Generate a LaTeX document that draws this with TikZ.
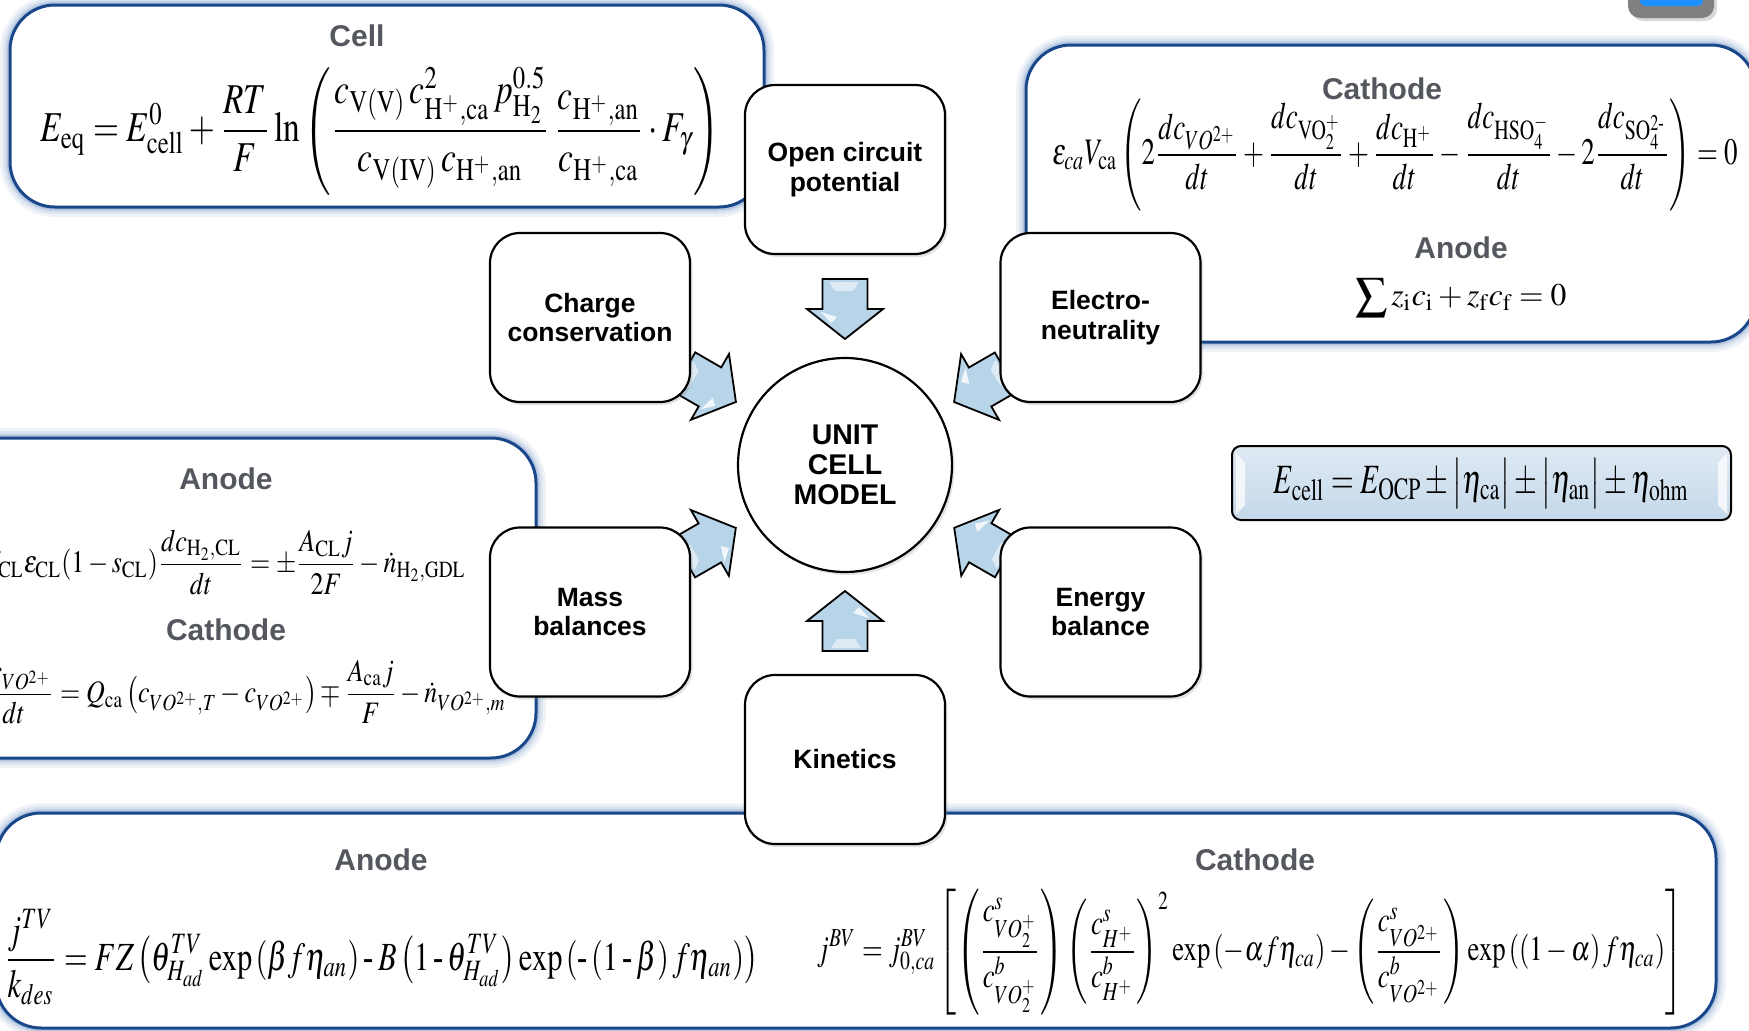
\documentclass[tikz,border=0pt]{standalone}
\usepackage{amsmath}
\usepackage{mathptmx}
\usepackage[no-math]{fontspec}
\setmainfont{Liberation Serif}
\newfontfamily\lblsans{Liberation Sans}
\usepackage{graphicx}
\usetikzlibrary{calc,shadows}

\pgfdeclarelayer{backlayer}
\pgfdeclarelayer{arrowlayer}
\pgfsetlayers{backlayer,arrowlayer,main}

\definecolor{panelblue}{RGB}{26,71,138}
\definecolor{glowblue}{RGB}{130,162,205}
\definecolor{titlegray}{RGB}{84,88,94}
\definecolor{arrowfill}{RGB}{183,212,232}
\definecolor{ecelltop}{RGB}{224,234,244}
\definecolor{ecellbot}{RGB}{196,216,233}
\definecolor{tabgray}{RGB}{128,128,128}
\definecolor{tabblue}{RGB}{30,144,255}

\newsavebox\anodebox
\newsavebox\cathbox

\tikzset{
  modelbox/.style={draw=black, line width=2.2pt, fill=white, rounded corners=30pt,
    minimum width=200pt, minimum height=169pt, align=center,
    font=\lblsans\bfseries\fontsize{26.5}{29.5}\selectfont,
    drop shadow={opacity=0.22, shadow xshift=2.5pt, shadow yshift=-3pt}},
  hub/.style={circle, draw=black, line width=2.2pt, fill=white, minimum size=214pt,
    align=center, font=\lblsans\bfseries\fontsize{28.5}{30}\selectfont,
    drop shadow={opacity=0.22, shadow xshift=2.5pt, shadow yshift=-3pt}},
  ttl/.style={inner sep=0pt, text=titlegray, font=\lblsans\bfseries\fontsize{30}{32}\selectfont},
  eq/.style={inner sep=0pt, text=black},
  arrowbody/.style={draw=black, line width=1.8pt, fill=arrowfill, line join=miter},
  ecellbox/.style={draw=black, line width=2pt, rounded corners=9pt, top color=ecelltop,
    bottom color=ecellbot, minimum width=499pt, minimum height=74pt, inner sep=0pt}
}

% rounded panel with a soft blue halo and a navy outline
\newcommand\glowpanel[1]{%
  \foreach \w/\o in {20/0.12,14/0.16,9/0.22,6/0.3}{\draw[glowblue, line width=\w pt, opacity=\o, rounded corners=45pt] #1;}
  \fill[white, rounded corners=45pt] #1;
  \draw[panelblue, line width=3pt, rounded corners=45pt] #1;}

% block arrow from node #1 towards node #2 (tip 126pt from the centre of #2)
\newcommand\blkarrow[2]{%
  \pgfmathanglebetweenpoints{\pgfpointanchor{#2}{center}}{\pgfpointanchor{#1}{center}}%
  \edef\arrang{\pgfmathresult}%
  \begin{pgfonlayer}{arrowlayer}
  \begin{scope}[shift={($(#2.center)!186pt!(#1.center)$)}, rotate=\arrang+180]
    \filldraw[arrowbody] (0,-22.5) -- (30,-22.5) -- (30,-38) -- (60,0) -- (30,38) -- (30,22.5) -- (0,22.5) -- cycle;
    \fill[white, opacity=0.55] (3,-14) -- (3,16) -- (12,10) -- (12,-8) -- cycle;
    \fill[white, opacity=0.8] (33,24) -- (38,8) -- (44,14) -- cycle;
  \end{scope}
  \end{pgfonlayer}}

\begin{document}
\begin{tikzpicture}[x=1pt,y=-1pt]
\useasboundingbox (0,0) rectangle (1749,1031);
\begin{pgfonlayer}{backlayer}
\fill[white] (0,0) rectangle (1749,1031);
\end{pgfonlayer}
\clip (0,0) rectangle (1749,1031);

% equation boxes for the left panel, scaled alike
\sbox\anodebox{$\displaystyle V_{\mathrm{CL}}\varepsilon_{\mathrm{CL}}(1-s_{\mathrm{CL}})\frac{dc_{\mathrm{H_{2},CL}}}{dt}=\pm\frac{A_{\mathrm{CL}}j}{2F}-\dot{n}_{\mathrm{H_{2},GDL}}$}
\sbox\cathbox{$\displaystyle \frac{dc_{VO^{2+}}}{dt}=Q_{\mathrm{ca}}\left(c_{VO^{2+},T}-c_{VO^{2+}}\right)\mp\frac{A_{\mathrm{ca}}j}{F}-\dot{n}_{VO^{2+},m}$}
\pgfmathsetmacro\leftscale{481/\the\wd\anodebox}
\pgfmathsetmacro\leftvscale{1.2*\leftscale}

% window tab in the corner
\fill[black, opacity=0.15, rounded corners=12pt] (1631,-20) rectangle (1717,21);
\fill[tabgray, rounded corners=12pt] (1628,-20) rectangle (1714,18);
\fill[tabblue, rounded corners=5pt] (1640,-20) rectangle (1703,6);

% equation panels
\glowpanel{(10,5) rectangle (764,207)}
\glowpanel{(1026,45) rectangle (1756,342)}
\glowpanel{(-60,438) rectangle (536,758)}
\glowpanel{(-4,813) rectangle (1716,1028)}

% cell panel
\node[ttl] (celltitle) at (357,36) {Cell};
\node[eq] (celleq) at (380,131) {\resizebox*{679pt}{128pt}{$\displaystyle E_{\mathrm{eq}}=E^{0}_{\mathrm{cell}}+\frac{RT}{F}\ln\left(\frac{c_{\mathrm{V(V)}}\,c^{2}_{\mathrm{H^{+},ca}}\,p^{0.5}_{\mathrm{H_{2}}}}{c_{\mathrm{V(IV)}}\,c_{\mathrm{H^{+},an}}}\,\frac{c_{\mathrm{H^{+},an}}}{c_{\mathrm{H^{+},ca}}}\cdot F_{\gamma}\right)$}};

% electroneutrality panel
\node[ttl] (catttl) at (1382,89) {Cathode};
\node[eq] (cateq) at (1395,155) {\resizebox*{685pt}{112pt}{$\displaystyle \varepsilon_{ca}V_{\mathrm{ca}}\left(2\frac{dc_{VO^{2+}}}{dt}+\frac{dc_{\mathrm{VO_{2}^{+}}}}{dt}+\frac{dc_{\mathrm{H^{+}}}}{dt}-\frac{dc_{\mathrm{HSO_{4}^{-}}}}{dt}-2\frac{dc_{\mathrm{SO_{4}^{2\text{-}}}}}{dt}\right)=0$}};
\node[ttl] (anttl) at (1461,248) {Anode};
\node[eq] (aneq) at (1461,298) {\resizebox{211pt}{!}{$\displaystyle\sum z_{\mathrm{i}}c_{\mathrm{i}}+z_{\mathrm{f}}c_{\mathrm{f}}=0$}};

% mass balance panel
\node[ttl] (lanttl) at (226,479) {Anode};
\node[eq, anchor=east] (laneq) at (466,562) {\scalebox{\leftscale}[\leftvscale]{\usebox\anodebox}};
\node[ttl] (lcatttl) at (226,630) {Cathode};
\node[eq, anchor=east] (lcateq) at (506,692) {\scalebox{\leftscale}[\leftvscale]{\usebox\cathbox}};

% kinetics panel
\node[ttl] (banttl) at (381,860) {Anode};
\node[eq] (baneq) at (381,957) {\resizebox*{754pt}{95pt}{$\displaystyle \frac{j^{TV}}{k_{des}}=FZ\left(\theta^{TV}_{H_{ad}}\exp\left(\beta f\eta_{an}\right)\mathbin{\text{-}}B\left(1\mathbin{\text{-}}\theta^{TV}_{H_{ad}}\right)\exp\left(\text{-}\left(1\mathbin{\text{-}}\beta\right)f\eta_{an}\right)\right)$}};
\node[ttl] (bcatttl) at (1255,860) {Cathode};
\node[eq] (bcateq) at (1250,952) {\resizebox*{866pt}{126pt}{$\displaystyle j^{BV}=j^{BV}_{0,ca}\left[\left(\frac{c^{s}_{VO_{2}^{+}}}{c^{b}_{VO_{2}^{+}}}\right)\left(\frac{c^{s}_{H^{+}}}{c^{b}_{H^{+}}}\right)^{2}\exp\left(-\alpha f\eta_{ca}\right)-\left(\frac{c^{s}_{VO^{2+}}}{c^{b}_{VO^{2+}}}\right)\exp\left(\left(1-\alpha\right)f\eta_{ca}\right)\right]$}};

% cell voltage
\node[ecellbox] (ecell) at (1481.5,483) {\resizebox*{415pt}{50pt}{$E_{\mathrm{cell}}=E_{\mathrm{OCP}}\pm\bigl|\eta_{\mathrm{ca}}\bigr|\pm\bigl|\eta_{\mathrm{an}}\bigr|\pm\eta_{\mathrm{ohm}}$}};
\fill[white, opacity=0.75] ($(ecell.north west)+(5,8)$) -- ($(ecell.north west)+(14,18)$) -- ($(ecell.south west)+(14,-16)$) -- ($(ecell.south west)+(5,-7)$) -- cycle;
\fill[white, opacity=0.75] ($(ecell.north east)+(-5,8)$) -- ($(ecell.north east)+(-14,18)$) -- ($(ecell.south east)+(-14,-16)$) -- ($(ecell.south east)+(-5,-7)$) -- cycle;

% model components
\node[modelbox] (ocp) at (845,169.5) {Open circuit\\potential};
\node[modelbox] (charge) at (590,317.5) {Charge\\conservation};
\node[modelbox] (elec) at (1100.5,317.5) {Electro-\\neutrality};
\node[modelbox] (mass) at (590,612) {Mass\\balances};
\node[modelbox] (energy) at (1100.5,612) {Energy\\balance};
\node[modelbox] (kin) at (845,759.5) {Kinetics};
\node[hub] (unit) at (845,465) {UNIT\\CELL\\MODEL};

% block arrows into the unit cell model
\blkarrow{ocp}{unit}
\blkarrow{charge}{unit}
\blkarrow{elec}{unit}
\blkarrow{mass}{unit}
\blkarrow{energy}{unit}
\blkarrow{kin}{unit}
\end{tikzpicture}
\end{document}
